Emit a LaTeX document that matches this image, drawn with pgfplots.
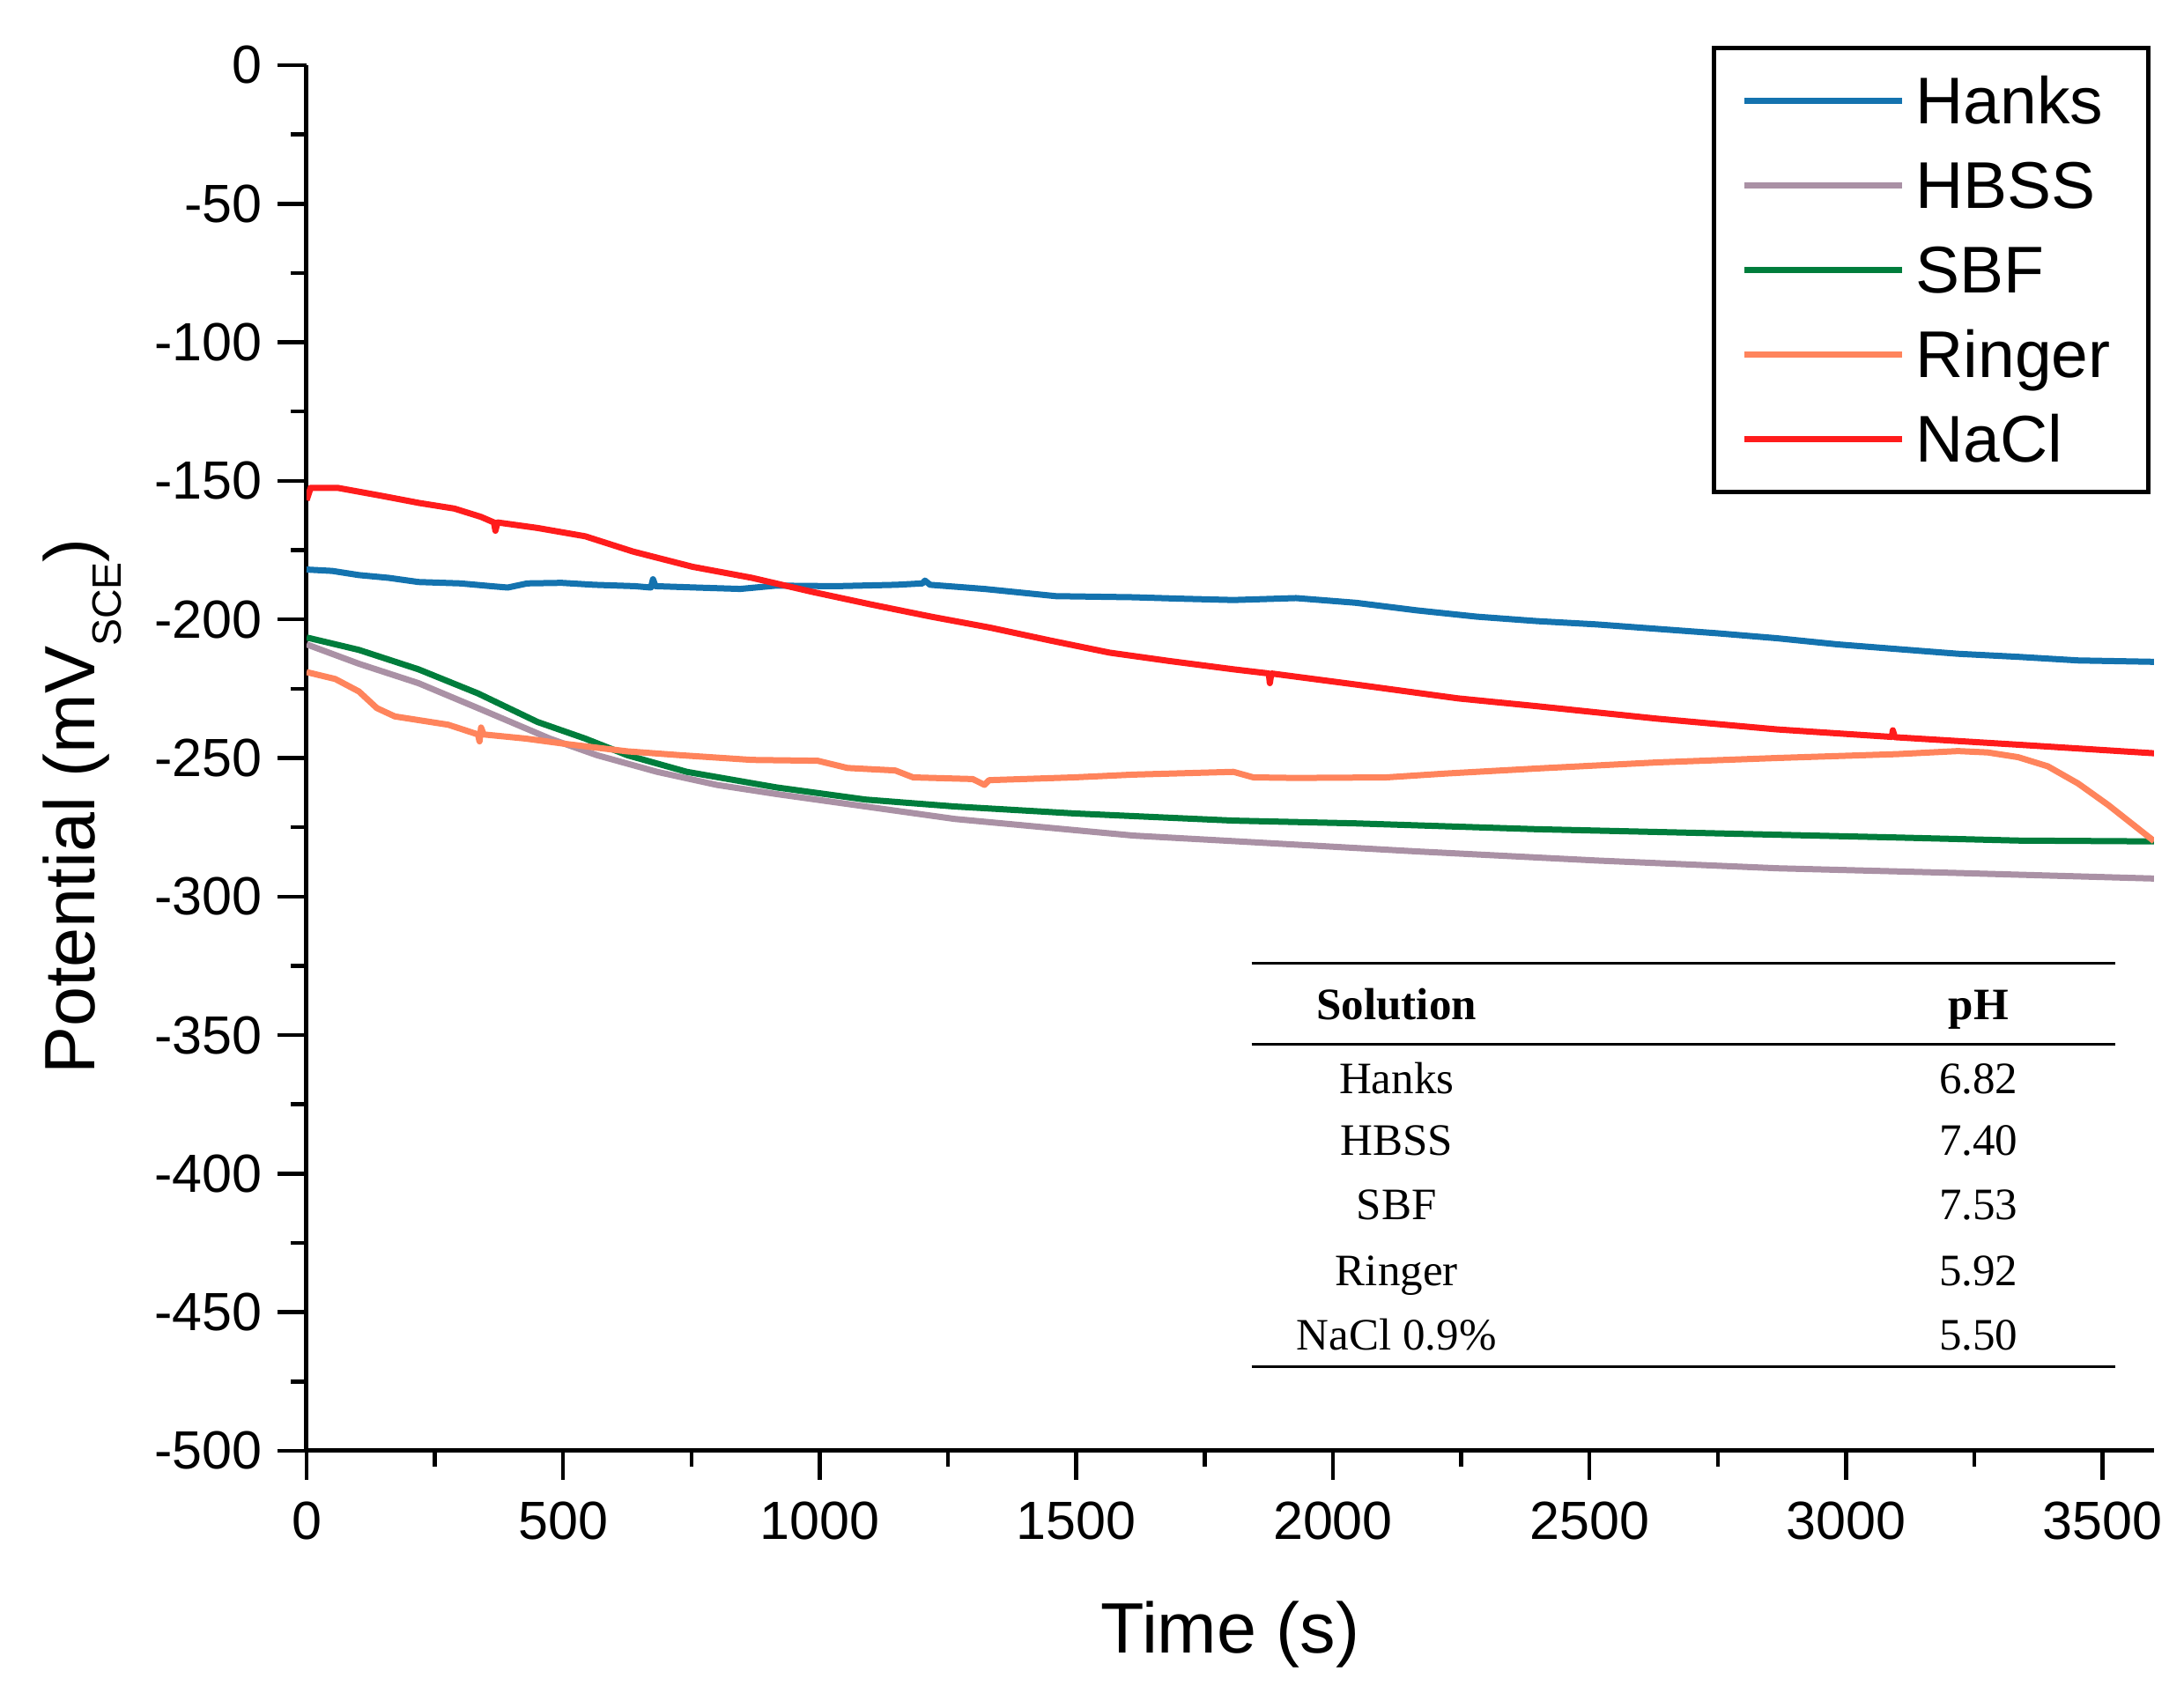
\documentclass[border=0pt]{standalone}
\usepackage{pgfplots}
\pgfplotsset{compat=1.18}
\usepackage{fontspec}
\setmainfont{Liberation Sans}
\newfontfamily\tabfont{Liberation Serif}
\definecolor{hanks}{RGB}{20,115,175}
\definecolor{hbss}{RGB}{170,145,165}
\definecolor{sbf}{RGB}{0,125,60}
\definecolor{ringer}{RGB}{255,132,92}
\definecolor{nacl}{RGB}{255,28,28}
\begin{document}
\begin{tikzpicture}
\useasboundingbox (-69.6pt,-53.4pt) rectangle (426.2pt,329.4pt);
\begin{axis}[
  at={(0,0)}, anchor=south west,
  scale only axis, width=419.4pt, height=314.6pt,
  xmin=0, xmax=3600, ymin=-500, ymax=0,
  axis lines=left, axis line style={-, line width=1pt},
  xtick={0,500,...,3500}, ytick={-500,-450,...,0},
  minor x tick num=1, minor y tick num=1,
  tick align=outside,
  major tick length=6.6pt, minor tick length=3.6pt,
  every tick/.style={black, line width=0.9pt},
  tick label style={font=\fontsize{12.2}{14}\selectfont},
  xticklabel style={yshift=-1.5pt},
  /pgf/number format/assume math mode=true,
  /pgf/number format/set thousands separator={},
  xlabel={Time (s)},
  xlabel style={font=\fontsize{16.2}{18}\selectfont, at={(axis description cs:0.5,0)}, anchor=base, yshift=-46pt},
  ylabel={Potential (mV\raisebox{-6pt}{\fontsize{9.3}{10}\selectfont SCE})},
  ylabel style={font=\fontsize{16.2}{18}\selectfont, at={(axis description cs:-0.1149,0.465)}, anchor=base, rotate=0},
  legend style={at={(rel axis cs:0.998,1.014)}, anchor=north east, draw=black, line width=1pt,
    inner xsep=6.2pt, inner ysep=2.4pt, font=\fontsize{15}{17}\selectfont,
    nodes={text height=12.5pt, text depth=2pt, inner sep=2.35pt}},
  legend cell align=left,
  legend image code/.code={\draw[#1, line width=1.5pt] (0pt,0pt) -- (35.8pt,0pt);},
  every axis plot/.append style={line width=1.4pt, line join=round},
]
\addplot[hanks] coordinates {
(0,-182) (50,-182.5) (102,-184) (160,-185) (218,-186.5) (300,-187) (360,-188) (392,-188.5) (430,-187) (497,-186.8) (560,-187.5) (640,-188) (671,-188.5) (675,-185.5) (680,-188) (760,-188.5) (845,-189) (915,-187.8) (1031,-188) (1150,-187.5) (1200,-187) (1205,-186) (1215,-187.5) (1321,-189) (1460,-191.6) (1611,-192) (1700,-192.5) (1806,-193) (1928,-192.3) (2045,-194) (2162,-196.7) (2280,-199) (2397,-200.6) (2514,-201.8) (2631,-203.4) (2749,-205) (2866,-206.8) (2983,-209) (3100,-210.7) (3218,-212.4) (3335,-213.5) (3452,-214.8) (3600,-215.3)
};
\addlegendentry{Hanks}
\addplot[hbss] coordinates {
(0,-209) (102,-216) (218,-223) (334,-232) (474,-243) (566,-249) (683,-255) (799,-259.7) (915,-263) (1089,-267.5) (1263,-272) (1437,-275) (1611,-278) (1806,-280) (2162,-283.7) (2514,-287) (2866,-289.8) (3218,-291.5) (3600,-293.5)
};
\addlegendentry{HBSS}
\addplot[sbf] coordinates {
(0,-206.5) (102,-211) (218,-218) (334,-226.7) (450,-237) (543,-243) (625,-249) (741,-255) (915,-260.6) (1089,-265) (1263,-267.5) (1495,-270) (1806,-272.6) (2045,-273.6) (2397,-275.7) (2749,-277.2) (3100,-278.7) (3335,-279.8) (3600,-280.1)
};
\addlegendentry{SBF}
\addplot[ringer] coordinates {
(0,-219) (56,-221.5) (102,-226) (137,-232) (172,-235) (276,-238) (334,-241.5) (337,-244) (340,-239) (345,-241.5) (427,-243) (508,-245) (625,-247.6) (729,-249) (868,-250.7) (996,-251) (1054,-253.6) (1147,-254.5) (1182,-257) (1298,-257.6) (1321,-259.7) (1330,-258) (1495,-257) (1611,-256) (1806,-255) (1845,-257) (1928,-257.2) (2104,-257) (2221,-255.6) (2397,-253.8) (2631,-251.6) (2866,-250) (3100,-248.6) (3218,-247.5) (3276,-248) (3335,-249.7) (3393,-253) (3452,-259.2) (3511,-267) (3600,-280)
};
\addlegendentry{Ringer}
\addplot[nacl] coordinates {
(0,-157) (8,-152.5) (60,-152.5) (149,-155.5) (220,-158) (288,-160) (340,-163) (365,-165) (368,-168) (372,-165) (450,-167) (543,-170) (636,-175.5) (752,-181) (868,-185) (984,-190) (1100,-194.6) (1217,-199) (1333,-203) (1449,-207.6) (1565,-212) (1681,-215) (1806,-218) (1875,-219.5) (1877,-223) (1880,-219.5) (2045,-223.5) (2244,-228.5) (2397,-231.3) (2631,-235.8) (2866,-239.7) (3089,-242.4) (3091,-240) (3095,-242.5) (3335,-245.2) (3600,-248.3)
};
\addlegendentry{NaCl}
% inset table
\draw[line width=0.6pt] (rel axis cs:0.5115,0.3516) -- (rel axis cs:0.979,0.3516);
\draw[line width=0.6pt] (rel axis cs:0.5115,0.2931) -- (rel axis cs:0.979,0.2931);
\draw[line width=0.6pt] (rel axis cs:0.5115,0.0610) -- (rel axis cs:0.979,0.0610);
\node[anchor=base, font=\tabfont\fontsize{10.2}{12}\selectfont\bfseries] at (rel axis cs:0.5900,0.3112) {Solution};
\node[anchor=base, font=\tabfont\fontsize{10.2}{12}\selectfont\bfseries] at (rel axis cs:0.9050,0.3112) {pH};
\node[anchor=base, font=\tabfont\fontsize{10.2}{12}\selectfont] at (rel axis cs:0.5900,0.2581) {Hanks};
\node[anchor=base, font=\tabfont\fontsize{10.2}{12}\selectfont] at (rel axis cs:0.9050,0.2581) {6.82};
\node[anchor=base, font=\tabfont\fontsize{10.2}{12}\selectfont] at (rel axis cs:0.5900,0.2130) {HBSS};
\node[anchor=base, font=\tabfont\fontsize{10.2}{12}\selectfont] at (rel axis cs:0.9050,0.2130) {7.40};
\node[anchor=base, font=\tabfont\fontsize{10.2}{12}\selectfont] at (rel axis cs:0.5900,0.1668) {SBF};
\node[anchor=base, font=\tabfont\fontsize{10.2}{12}\selectfont] at (rel axis cs:0.9050,0.1668) {7.53};
\node[anchor=base, font=\tabfont\fontsize{10.2}{12}\selectfont] at (rel axis cs:0.5900,0.1189) {Ringer};
\node[anchor=base, font=\tabfont\fontsize{10.2}{12}\selectfont] at (rel axis cs:0.9050,0.1189) {5.92};
\node[anchor=base, font=\tabfont\fontsize{10.2}{12}\selectfont] at (rel axis cs:0.5900,0.0731) {NaCl 0.9\%};
\node[anchor=base, font=\tabfont\fontsize{10.2}{12}\selectfont] at (rel axis cs:0.9050,0.0731) {5.50};
\end{axis}
\end{tikzpicture}
\end{document}
